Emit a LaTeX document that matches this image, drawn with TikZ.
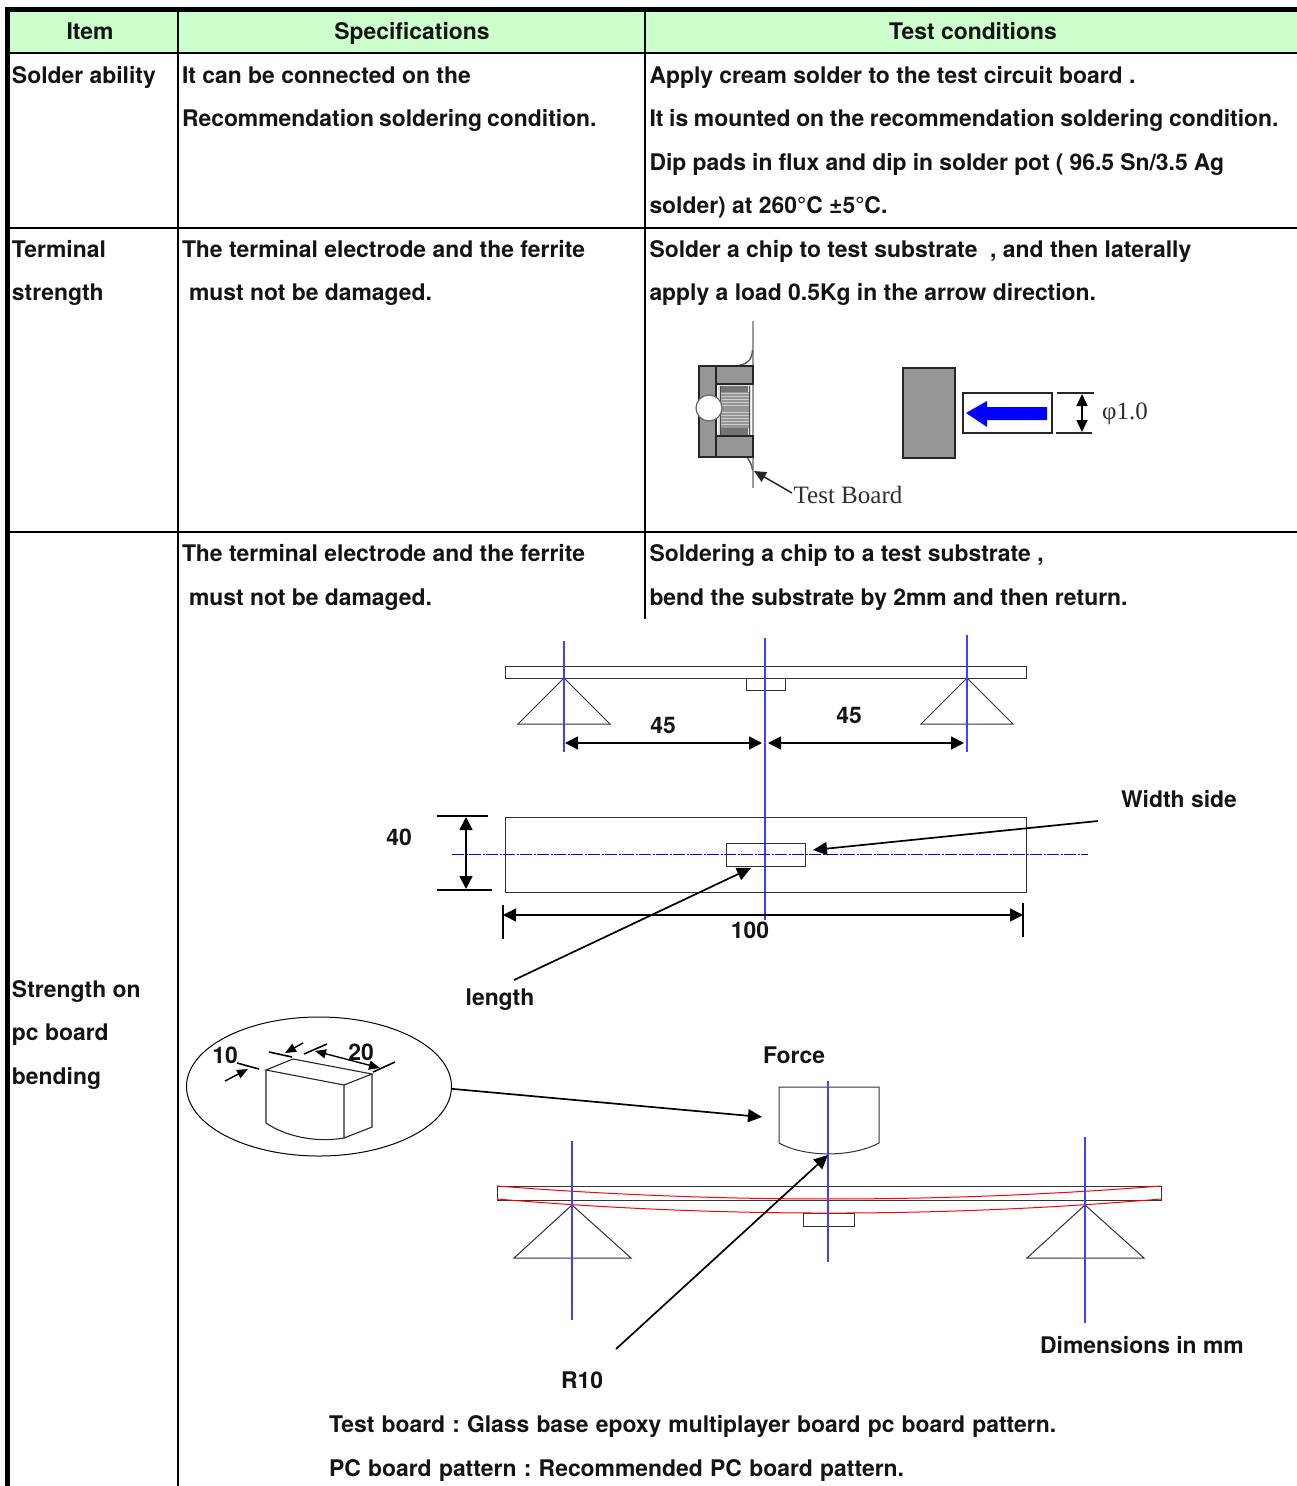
\documentclass[tikz,border=0pt]{standalone}
\usepackage{fontspec}
\setmainfont{TeX Gyre Heros}
\newfontfamily\serifface{Liberation Serif}
\usetikzlibrary{arrows.meta,shapes.geometric}
\definecolor{headgreen}{HTML}{CCFFCC}
\definecolor{partgray}{HTML}{969696}
\definecolor{cline}{HTML}{0000FF}
\newcommand{\tabfont}{\fontsize{22.9}{24}\selectfont\bfseries\frenchspacing}
\tikzset{
  txt/.style={anchor=base west,inner sep=0pt,outer sep=0pt,font=\tabfont,text=black!92},
  head/.style={anchor=base,inner sep=0pt,font=\tabfont,text=black!92},
  lab/.style={anchor=center,inner sep=0pt,font=\tabfont,text=black!92},
  serlab/.style={anchor=center,inner sep=0pt,font=\serifface\fontsize{25}{25}\selectfont,text=black!82},
  rule/.style={line width=2pt,black},
  heavy/.style={line width=5pt,black},
  thin/.style={line width=1pt,black!80},
  centre/.style={line width=1.3pt,cline!75!white},
  plan centre/.style={line width=.9pt,cline},
  red curve/.style={line width=1pt,red},
  pointer/.style={line width=1.7pt,black,-{Triangle[length=14pt,width=13pt]}},
  dimen/.style={line width=1.6pt,black,{Triangle[length=13pt,width=13pt]}-{Triangle[length=13pt,width=13pt]}},
  small dimen/.style={line width=1.4pt,black,{Triangle[length=11pt,width=9pt]}-{Triangle[length=11pt,width=9pt]}},
  phi dimen/.style={line width=1.5pt,black,{Triangle[length=12pt,width=11pt]}-{Triangle[length=12pt,width=11pt]}},
  tick/.style={line width=1.6pt,black},
  part/.style={draw=black!85,fill=partgray,line width=1.6pt},
}
\begin{document}
\begin{tikzpicture}[x=1pt,y=-1pt]
\useasboundingbox (0,0) rectangle (1297,1486);
% table
\fill[headgreen] (10,12) rectangle (1297,52);
\coordinate (tl) at (7.5,9.5);
\coordinate (tr) at (1297,9.5);
\coordinate (bl) at (7.5,1486);
\draw[heavy] (tr) -- (tl) -- (bl);
\draw[rule] (10,53) -- (1297,53);
\draw[rule] (10,227.5) -- (1297,227.5);
\draw[rule] (10,532) -- (1297,532);
\draw[rule] (178,12) -- (178,1486);
\draw[rule] (645,12) -- (645,619);
% header
\node[head] (h1) at (90,39) {Item};
\node[head] (h2) at (412,39) {Specifications};
\node[head] (h3) at (973,39) {Test conditions};
% row 1
\node[txt] (a1) at (12,83.5) {Solder ability};
\node[txt] (b1) at (182,83.5) {It can be connected on the};
\node[txt] (b2) at (182,126.5) {\spaceskip=5pt Recommendation soldering condition.};
\node[txt] (c1) at (649.5,83.5) {Apply cream solder to the test circuit board .};
\node[txt] (c2) at (649.5,126.5) {\spaceskip=5.7pt It is mounted on the recommendation soldering condition.};
\node[txt] (c3) at (649.5,170.5) {\spaceskip=6.15pt Dip pads in flux and dip in solder pot ( 96.5 Sn/3.5 Ag};
\node[txt] (c4) at (649.5,213.5) {solder) at 260°C ±5°C.};
% row 2
\node[txt] (a2) at (12,257.5) {Terminal};
\node[txt] (a3) at (12,300.5) {strength};
\node[txt] (b3) at (182,257.5) {The terminal electrode and the ferrite};
\node[txt] (b4) at (189,300.5) {must not be damaged.};
\node[txt] (c5) at (649.5,257.5) {Solder a chip to test substrate\ \ , and then laterally};
\node[txt] (c6) at (649.5,300.5) {apply a load 0.5Kg in the arrow direction.};
% row 3
\node[txt] (b5) at (182,561.5) {The terminal electrode and the ferrite};
\node[txt] (b6) at (189,605.5) {must not be damaged.};
\node[txt] (c7) at (649.5,561.5) {Soldering a chip to a test substrate ,};
\node[txt] (c8) at (649.5,605.5) {bend the substrate by 2mm and then return.};
\node[txt] (a4) at (12,997.5) {Strength on};
\node[txt] (a5) at (12,1040.5) {pc board};
\node[txt] (a6) at (12,1084.5) {bending};
\node[txt] (n1) at (329,1432.5) {\spaceskip=7.1pt Test board : Glass base epoxy multiplayer board pc board pattern.};
\node[txt] (n2) at (329,1476.5) {\spaceskip=7.3pt PC board pattern : Recommended PC board pattern.};
% terminal strength figure
\draw[line width=2pt,black!40] (752.5,321) -- (752.5,488);
\draw[line width=1.4pt,black!65] (740,365) .. controls (748,364) and (752,359) .. (752.5,350);
\draw[line width=1.4pt,black!65] (746,456) .. controls (749,460) and (752,464) .. (752.5,470);
\fill[black!12] (718,384) rectangle (751,437);
\fill[black!55] (721,386) rectangle (748,393);
\fill[black!55] (721,426) rectangle (748,436);
\fill[partgray] (720,392) rectangle (749,428);
\foreach \yy in {393,396,...,405,412,415,...,426} \draw[white!80!black,line width=1pt] (720,\yy) -- (749,\yy);
\draw[black!70,line width=1pt] (720,386) -- (720,436);
\draw[black!70,line width=1pt] (749,386) -- (749,436);
\draw[part] (699,366) rectangle (716,457);
\draw[part] (716,366) rectangle (753,384);
\draw[part] (716,436) rectangle (753,457);
\node[circle,draw=black!60,fill=white,line width=1.2pt,minimum size=26pt,inner sep=0pt] (ball) at (709,408) {};
\draw[part] (903,368) rectangle (955,458);
\draw[line width=1.4pt,black!85,fill=white] (963,393) rectangle (1052,433);
\fill[blue] (966,413) -- (987,401) -- (987,407) -- (1047,407) -- (1047,420) -- (987,420) -- (987,427) -- cycle;
\draw[tick,black!85] (1057,393) -- (1094,393);
\draw[tick,black!85] (1056,433) -- (1092,433);
\coordinate (phit) at (1082,394);
\coordinate (phib) at (1082,432);
\draw[phi dimen] (phit) -- (phib);
\node[serlab] (phi) at (1125,414) {φ1.0};
\node[serlab] (tb) at (848,495) {Test Board};
\coordinate (tbtip) at (754,471);
\draw[line width=1.5pt,black!85,-{Triangle[length=12pt,width=11pt]}] (792,493) -- (tbtip);
% top bending beam
\draw[thin] (505,666) rectangle (1026,678);
\draw[thin] (746,678) rectangle (785,690);
\draw[thin] (564,678) -- (518,724) -- (610,724) -- cycle;
\draw[thin] (967,678) -- (921,724) -- (1013,724) -- cycle;
\draw[centre] (564,641) -- (564,752);
\draw[centre] (765,638) -- (765,920);
\draw[centre] (967,635) -- (967,752);
\coordinate (d1) at (565,743);
\coordinate (d2) at (762,743);
\coordinate (d3) at (768,743);
\coordinate (d4) at (964,743);
\draw[dimen] (d1) -- (d2);
\draw[dimen] (d3) -- (d4);
\node[lab] (l45a) at (663,725) {45};
\node[lab] (l45b) at (849,715) {45};
% plan view
\draw[thin] (505,817) rectangle (1026,892);
\draw[thin] (726,843) rectangle (805,866);
\draw[plan centre,dash pattern=on 12pt off 1.5pt on 2pt off 1.5pt] (452,854.5) -- (1088,854.5);
\draw[tick] (437,816) -- (488,816);
\draw[tick] (437,890) -- (492,890);
\coordinate (d5) at (466,817);
\coordinate (d6) at (466,889);
\draw[dimen] (d5) -- (d6);
\node[lab] (l40) at (399,837) {40};
\draw[tick] (503,905) -- (503,939);
\draw[tick] (1023,903) -- (1023,937);
\coordinate (d7) at (503,915);
\coordinate (d8) at (1023,915);
\draw[dimen] (d7) -- (d8);
\node[lab] (l100) at (750,930) {100};
\node[lab] (wside) at (1179,799) {Width side};
\coordinate (wfrom) at (1098,821);
\coordinate (wto) at (813,850);
\draw[pointer] (wfrom) -- (wto);
\node[lab] (len) at (500,1000) {length};
\coordinate (lfrom) at (514,980);
\coordinate (lto) at (751,868);
\draw[pointer] (lfrom) -- (lto);
% detail ellipse
\node[ellipse,draw=black,line width=1pt,minimum width=265pt,minimum height=139pt,inner sep=0pt] (detail) at (319,1086.5) {};
\draw[line width=1.1pt,black!85] (266,1070) -- (293,1059) -- (372,1074) -- (344,1085) -- cycle;
\draw[line width=1.1pt,black!85] (266,1070) -- (266,1123) .. controls (285,1136) and (315,1143) .. (344,1138) -- (344,1085);
\draw[line width=1.1pt,black!85] (344,1138) -- (372,1127) -- (372,1074);
\draw[tick] (237,1063) -- (259,1069);
\draw[tick] (269,1052) -- (292,1057);
\draw[tick] (304,1054) -- (327,1044);
\draw[tick] (373,1072) -- (395,1062);
\draw[line width=1.4pt,-{Triangle[length=11pt,width=9pt]}] (225,1081) -- (248,1069);
\draw[line width=1.4pt,-{Triangle[length=11pt,width=9pt]}] (303,1043) -- (285,1053);
\coordinate (d9) at (315,1051);
\coordinate (d10) at (380,1068);
\draw[small dimen] (d9) -- (d10);
\node[lab] (l10) at (225,1055) {10};
\node[lab] (l20) at (361,1052) {20};
\coordinate (eto) at (762,1117);
\draw[pointer] (detail.-1) -- (eto);
% force and lower beam
\node[lab] (force) at (794,1055) {Force};
\draw[thin] (779,1143) -- (779,1087) -- (879,1087) -- (879,1143) .. controls (852,1157.5) and (805,1157.5) .. cycle;
\draw[thin] (497,1186) rectangle (1161,1200);
\draw[thin] (803,1213) rectangle (854,1226);
\draw[thin] (572,1205) -- (514,1258) -- (631,1258) -- cycle;
\draw[thin] (1085,1205) -- (1027,1258) -- (1144,1258) -- cycle;
\draw[red curve] (497,1186) .. controls (718,1203.3) and (940,1203.3) .. (1161,1186);
\draw[red curve] (497,1199) .. controls (718,1217.7) and (940,1217.7) .. (1161,1199);
\draw[centre] (572,1141) -- (572,1320);
\draw[centre] (828,1081) -- (828,1262);
\draw[centre] (1085,1137) -- (1085,1323);
\coordinate (rfrom) at (616,1349);
\coordinate (rto) at (828,1155);
\draw[pointer] (rfrom) -- (rto);
\node[lab] (r10) at (582,1380) {R10};
\node[lab] (dims) at (1142,1345) {Dimensions in mm};
\end{tikzpicture}
\end{document}
